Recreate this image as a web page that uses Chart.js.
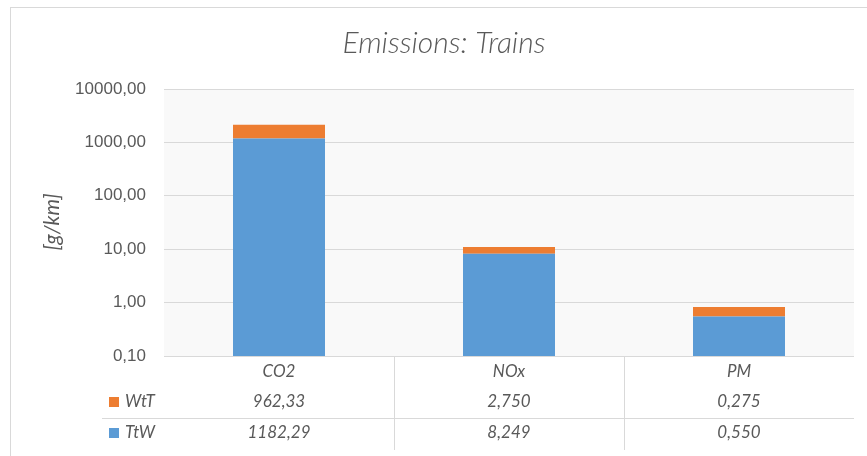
<!DOCTYPE html>
<html>
<head>
<meta charset="utf-8">
<script src="https://cdn.jsdelivr.net/npm/chart.js@4/dist/chart.umd.min.js"></script>
<style>
    html, body { margin: 0; padding: 0; background: #ffffff; }
    #wrap { width: 867px; height: 456px; }
</style>
</head>
<body>
<div id="wrap"><canvas id="emissionsChart" width="867" height="456"></canvas></div>
<script>
const categories = ["CO2", "NOx", "PM"];
const ttwValues = [1182.29, 8.249, 0.550];
const wttValues = [962.33, 2.750, 0.275];
const ttwLabels = ["1182,29", "8,249", "0,550"];
const wttLabels = ["962,33", "2,750", "0,275"];
const yTicks = [0.1, 1, 10, 100, 1000, 10000];

const BLUE = "#5b9bd5";
const ORANGE = "#ed7d31";
const TEXT = "#595959";
const LINE = "#d9d9d9";

function formatTick(value) {
    return value.toFixed(2).replace(".", ",");
}

// plot background, outer frame, title, axis title and the data table under the bars
const decorPlugin = {
    id: "decor",
    beforeDraw(chart) {
        const { ctx, chartArea } = chart;
        ctx.save();
        ctx.fillStyle = "#f9f9f9";
        ctx.fillRect(chartArea.left, chartArea.top, chartArea.right - chartArea.left, chartArea.bottom - chartArea.top);
        ctx.strokeStyle = LINE;
        ctx.lineWidth = 1;
        ctx.strokeRect(10.5, 7.5, 900, 500);
        ctx.restore();
    },
    afterDraw(chart) {
        const { ctx, chartArea } = chart;
        const xScale = chart.scales.x;
        ctx.save();

        ctx.fillStyle = TEXT;
        ctx.textAlign = "center";
        ctx.textBaseline = "alphabetic";
        ctx.font = "italic 300 30px Lato";
        ctx.fillText("Emissions: Trains", 444, 53);

        ctx.textBaseline = "middle";
        ctx.save();
        ctx.translate(52, 222);
        ctx.rotate(-Math.PI / 2);
        ctx.font = "italic 21px Lato";
        ctx.fillText("[g/km]", 0, 0);
        ctx.restore();

        // table grid
        ctx.strokeStyle = LINE;
        ctx.lineWidth = 1;
        ctx.beginPath();
        ctx.moveTo(102, 418.5);
        ctx.lineTo(chartArea.right, 418.5);
        for (let i = 0; i < categories.length - 1; i++) {
            const x = Math.round((xScale.getPixelForValue(i) + xScale.getPixelForValue(i + 1)) / 2) + 0.5;
            ctx.moveTo(x, chartArea.bottom);
            ctx.lineTo(x, 450);
        }
        ctx.stroke();

        // table text
        ctx.font = "italic 17px Lato";
        ctx.fillStyle = TEXT;
        categories.forEach((cat, i) => {
            const x = xScale.getPixelForValue(i);
            ctx.fillText(cat, x, 372);
            ctx.fillText(wttLabels[i], x, 402);
            ctx.fillText(ttwLabels[i], x, 433);
        });

        // legend keys
        ctx.fillStyle = ORANGE;
        ctx.fillRect(109, 397, 10, 10);
        ctx.fillStyle = BLUE;
        ctx.fillRect(109, 428, 10, 10);
        ctx.fillStyle = TEXT;
        ctx.textAlign = "left";
        ctx.fillText("WtT", 125, 402);
        ctx.fillText("TtW", 125, 433);

        ctx.restore();
    }
};

new Chart(document.getElementById("emissionsChart").getContext("2d"), {
    type: "bar",
    data: {
        labels: categories,
        datasets: [
            {
                label: "TtW",
                data: ttwValues,
                backgroundColor: BLUE,
                borderWidth: 0
            },
            {
                label: "WtT",
                data: wttValues,
                backgroundColor: ORANGE,
                borderWidth: 0
            }
        ]
    },
    options: {
        responsive: false,
        animation: false,
        layout: { padding: { top: 89, right: 13, left: 0, bottom: 0 } },
        datasets: {
            bar: { categoryPercentage: 0.8, barPercentage: 0.5 }
        },
        plugins: {
            legend: { display: false },
            tooltip: { enabled: false },
            title: { display: false }
        },
        scales: {
            x: {
                stacked: true,
                grid: { display: false },
                border: { display: false },
                ticks: { display: false },
                afterFit(scale) { scale.height = 100; }
            },
            y: {
                type: "logarithmic",
                stacked: true,
                min: 0.1,
                max: 10000,
                border: { display: false },
                grid: { color: LINE, lineWidth: 1, drawTicks: false },
                ticks: {
                    padding: 18,
                    color: TEXT,
                    font: { family: "Liberation Sans", size: 17 },
                    callback: (value) => formatTick(value)
                },
                afterBuildTicks(scale) {
                    scale.ticks = yTicks.map((v) => ({ value: v }));
                },
                afterFit(scale) { scale.width = 164; }
            }
        }
    },
    plugins: [decorPlugin]
});
</script>
</body>
</html>
